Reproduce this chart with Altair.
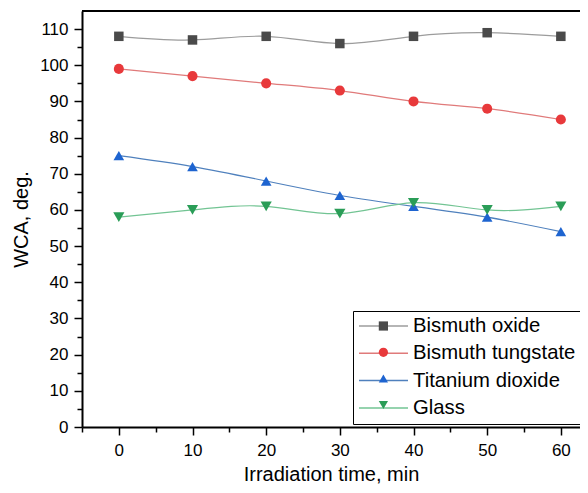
import altair as alt
import pandas as pd

# ---- data ----
times = [0, 10, 20, 30, 40, 50, 60]
series_names = ["Bismuth oxide", "Bismuth tungstate", "Titanium dioxide", "Glass"]
bismuth_oxide = [108, 107, 108, 106, 108, 109, 108]
bismuth_tungstate = [99, 97, 95, 93, 90, 88, 85]
titanium_dioxide = [75, 72, 68, 64, 61, 58, 54]
glass = [58, 60, 61, 59, 62, 60, 61]

x_major = [0, 10, 20, 30, 40, 50, 60]
x_minor = [-5, 5, 15, 25, 35, 45, 55]
y_major = list(range(0, 111, 10))
y_minor = list(range(5, 111, 10))

# ---- styles ----
marker_colors = ["#4a4a4a", "#e8393b", "#1e64d0", "#2a9d57"]
line_colors = ["#9c9c9c", "#e07a7a", "#4f80bd", "#72c493"]
shapes = ["square", "circle", "triangle-up", "triangle-down"]
sizes = [90, 125, 115, 115]
FONT = "Liberation Sans"

rows = []
for name, vals in zip(series_names,
                      [bismuth_oxide, bismuth_tungstate, titanium_dioxide, glass]):
    for t, v in zip(times, vals):
        rows.append({"time": t, "wca": v, "series": name})
df = pd.DataFrame(rows)

PLOT_W = 498
PLOT_H = 416
xs = alt.Scale(domain=[-5, 62.6], nice=False, zero=False)
ys = alt.Scale(domain=[0, 115], nice=False, zero=False)

common_axis = dict(grid=False, domainColor="black", tickColor="black",
                   labelColor="black", titleColor="black", labelFont=FONT,
                   titleFont=FONT, titleFontWeight="normal", labelFontSize=17,
                   titleFontSize=20, tickWidth=1.5, domainWidth=2)

x_axis_major = alt.Axis(orient="bottom", values=x_major, title="Irradiation time, min",
                        tickSize=8, labelPadding=7, titlePadding=6, **common_axis)
y_axis_major = alt.Axis(orient="left", values=y_major, title="WCA, deg.",
                        tickSize=8, labelPadding=6, titlePadding=8, **common_axis)
x_axis_minor = alt.Axis(orient="bottom", values=x_minor, labels=False, title=None,
                        domain=False, tickSize=5, tickWidth=1.5, tickColor="black",
                        grid=False)
y_axis_minor = alt.Axis(orient="left", values=y_minor, labels=False, title=None,
                        domain=False, tickSize=5, tickWidth=1.5, tickColor="black",
                        grid=False)

LEG_X = 271
LEG_Y = 300
LEG_PAD = 5
LINE_W = 49
SYM = 85

base = alt.Chart(df)

lines = base.mark_line(interpolate="natural", strokeWidth=1.2).encode(
    x=alt.X("time:Q", scale=xs, axis=x_axis_major),
    y=alt.Y("wca:Q", scale=ys, axis=y_axis_major),
    stroke=alt.Stroke(
        "series:N",
        scale=alt.Scale(domain=series_names, range=line_colors),
        legend=alt.Legend(
            title=None, orient="none", legendX=LEG_X, legendY=LEG_Y,
            symbolType="stroke", symbolSize=LINE_W * LINE_W, symbolStrokeWidth=1.5,
            clipHeight=20, rowPadding=6.3, padding=LEG_PAD, labelOffset=4,
            labelFont=FONT, labelFontSize=20.3, labelColor="black", labelLimit=0,
            strokeColor="black", fillColor="white", zindex=1,
        ),
    ),
)

pt_leg_x = LEG_X + LINE_W / 2 - (SYM ** 0.5) / 2
point_legend = alt.Legend(
    title=None, orient="none", legendX=pt_leg_x, legendY=LEG_Y,
    symbolSize=SYM, clipHeight=20, rowPadding=6.3, padding=LEG_PAD,
    labelOffset=4, labelExpr="''", zindex=2,
)

points = base.mark_point(filled=True, opacity=1, strokeWidth=0).encode(
    x=alt.X("time:Q", scale=xs, axis=None),
    y=alt.Y("wca:Q", scale=ys, axis=None),
    fill=alt.Fill(
        "series:N",
        scale=alt.Scale(domain=series_names, range=marker_colors),
        legend=point_legend,
    ),
    shape=alt.Shape(
        "series:N",
        scale=alt.Scale(domain=series_names, range=shapes),
        legend=point_legend,
    ),
    size=alt.Size("series:N",
                  scale=alt.Scale(domain=series_names, range=sizes),
                  legend=None),
)

minor = base.mark_point(opacity=0).encode(
    x=alt.X("time:Q", scale=xs, axis=x_axis_minor),
    y=alt.Y("wca:Q", scale=ys, axis=y_axis_minor),
)

top_rule = alt.Chart(pd.DataFrame({"k": [0]})).mark_rule(
    color="black", strokeWidth=2
).encode(x=alt.value(0), x2=alt.value(PLOT_W), y=alt.value(0))

chart = (
    alt.layer(minor, lines, points, top_rule)
    .resolve_axis(x="independent", y="independent")
    .resolve_scale(stroke="independent", fill="independent", shape="independent")
    .properties(
        width=PLOT_W, height=PLOT_H,
        autosize=alt.AutoSizeParams(type="none"),
        padding={"left": 74, "top": 3, "right": 0, "bottom": 58},
    )
    .configure_view(stroke=None)
)

chart.save("out.html", embed_options={"renderer": "svg", "actions": False})
